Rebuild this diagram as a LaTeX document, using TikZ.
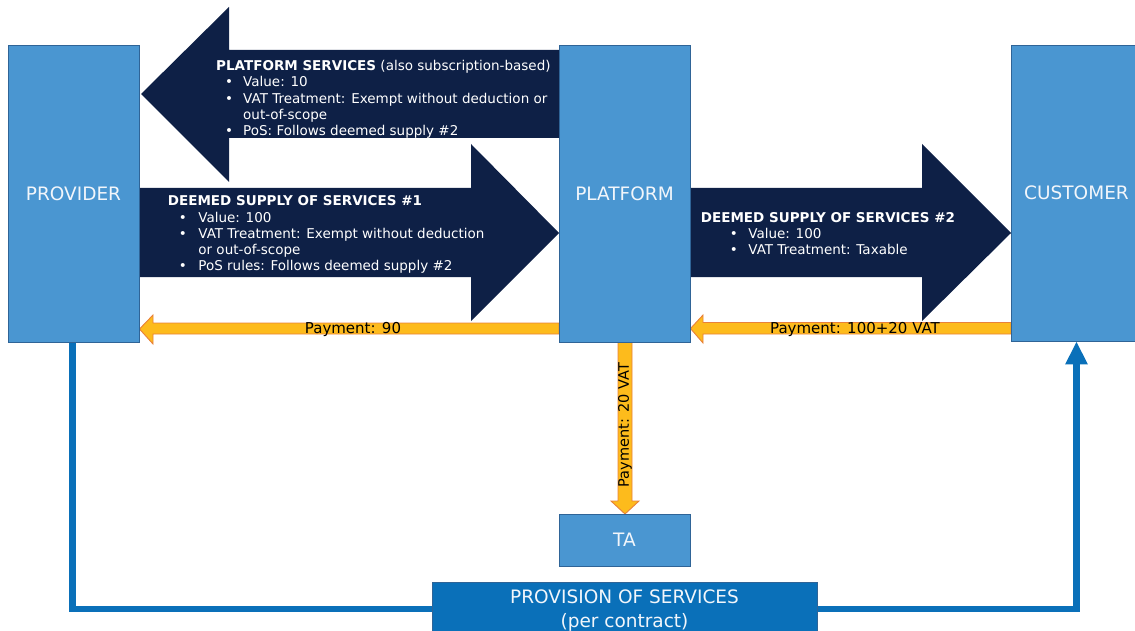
\documentclass[tikz,border=0pt]{standalone}
\usepackage{fontspec}
\setmainfont{DejaVu Sans}
\usetikzlibrary{arrows.meta}
\definecolor{boxblue}{HTML}{4A96D1}
\definecolor{boxedge}{HTML}{2F6497}
\definecolor{navy}{HTML}{0E2046}
\definecolor{payfill}{HTML}{FDBB1C}
\definecolor{payedge}{HTML}{E8813A}
\definecolor{provblue}{HTML}{0A70B9}
\definecolor{labelwhite}{HTML}{F2F6FB}
\pgfdeclarelayer{background}
\pgfsetlayers{background,main}
\newcommand{\bitem}[1]{\makebox[#1][l]{\textbullet}}
\begin{document}
\begin{tikzpicture}[x=1pt,y=-1pt,
  party/.style={draw=boxedge, line width=0.8pt, fill=boxblue, text=labelwhite,
    font=\fontsize{18.5}{22}\selectfont, inner sep=0pt},
  bigarrow/.style={fill=navy},
  payarrow/.style={fill=payfill, draw=payedge, line width=0.9pt, line join=miter},
  arrowtext/.style={text=white, font=\fontsize{13.5}{16.2}\selectfont, align=left,
    anchor=north west, inner sep=0pt},
  paytext/.style={text=black, font=\fontsize{15}{18}\selectfont, inner sep=0pt},
  provline/.style={draw=provblue, line width=6.5pt}
]
\useasboundingbox (0,0) rectangle (1135,631);

% parties
\node[party, minimum width=131pt, minimum height=297pt] (prov) at (73.5,193.5) {PROVIDER};
\node[party, minimum width=131pt, minimum height=297pt] (plat) at (624.5,193.5) {PLATFORM};
\node[party, minimum width=131pt, minimum height=296pt] (cust) at (1076.5,193) {CUSTOMER};
\node[party, minimum width=131pt, minimum height=52pt] (ta) at (624.5,540) {TA};
\node[party, fill=provblue, minimum width=385pt, minimum height=54pt] (provbox) at (624.5,609) {};
\node[text=labelwhite, align=center, inner sep=0pt, font=\fontsize{18.5}{24}\selectfont]
  (provtext) at (624.5,610.5) {PROVISION OF SERVICES\\(per contract)};

\begin{pgfonlayer}{background}
  % platform services (platform -> provider)
  \fill[bigarrow] (559,50) -- (229,50) -- (229,7) -- (141,94) -- (229,182)
    -- (229,138) -- (559,138) -- cycle;
  % deemed supply #1 (provider -> platform)
  \fill[bigarrow] (139,188) -- (471,188) -- (471,144) -- (559,233) -- (471,321)
    -- (471,277) -- (139,277) -- cycle;
  % deemed supply #2 (platform -> customer)
  \fill[bigarrow] (690,188) -- (922,188) -- (922,144) -- (1011,233) -- (922,321)
    -- (922,277) -- (690,277) -- cycle;
  % payment 90
  \filldraw[payarrow] (559,323) -- (153,323) -- (153,315) -- (139.5,329) -- (153,344)
    -- (153,334) -- (559,334) -- cycle;
  % payment 100+20 VAT
  \filldraw[payarrow] (1011,322.5) -- (703,322.5) -- (703,315) -- (690.5,328.5) -- (703,343)
    -- (703,334) -- (1011,334) -- cycle;
  % payment 20 VAT
  \filldraw[payarrow] (618,342) -- (632,342) -- (632,501) -- (639,501) -- (625,514)
    -- (611,501) -- (618,501) -- cycle;
  % provision of services
  \draw[provline] ([xshift=-1pt]prov.south) |- (provbox.west);
  \draw[provline, -{Triangle[width=21pt,length=23pt]}] (provbox.east) -| (cust.south);
\end{pgfonlayer}

% arrow texts
\node[arrowtext] (pstext) at (216,59.5) {\rule{0pt}{11pt}\textbf{PLATFORM SERVICES} (also subscription-based)\\
  \hspace*{9pt}\bitem{18pt}Value: 10\\
  \hspace*{9pt}\bitem{18pt}VAT Treatment: Exempt without deduction or\\
  \hspace*{27pt}out-of-scope\\
  \hspace*{9pt}\bitem{18pt}PoS: Follows deemed supply \#2};
\node[arrowtext] (ds1text) at (167.7,194.7) {\rule{0pt}{11pt}\textbf{DEEMED SUPPLY OF SERVICES \#1}\\
  \hspace*{11pt}\bitem{19.5pt}Value: 100\\
  \hspace*{11pt}\bitem{19.5pt}VAT Treatment: Exempt without deduction\\
  \hspace*{30.5pt}or out-of-scope\\
  \hspace*{11pt}\bitem{19.5pt}PoS rules: Follows deemed supply \#2};
\node[arrowtext] (ds2text) at (700.7,211.3) {\rule{0pt}{11pt}\textbf{DEEMED SUPPLY OF SERVICES \#2}\\
  \hspace*{29pt}\bitem{18.5pt}Value: 100\\
  \hspace*{29pt}\bitem{18.5pt}VAT Treatment: Taxable};

% payment labels
\node[paytext] (pay90) at (353,329) {Payment: 90};
\node[paytext] (pay120) at (855,329) {Payment: 100+20 VAT};
\node[paytext, font=\fontsize{14.5}{17}\selectfont, rotate=90] (pay20) at (625,425) {Payment: 20 VAT};
\end{tikzpicture}
\end{document}
